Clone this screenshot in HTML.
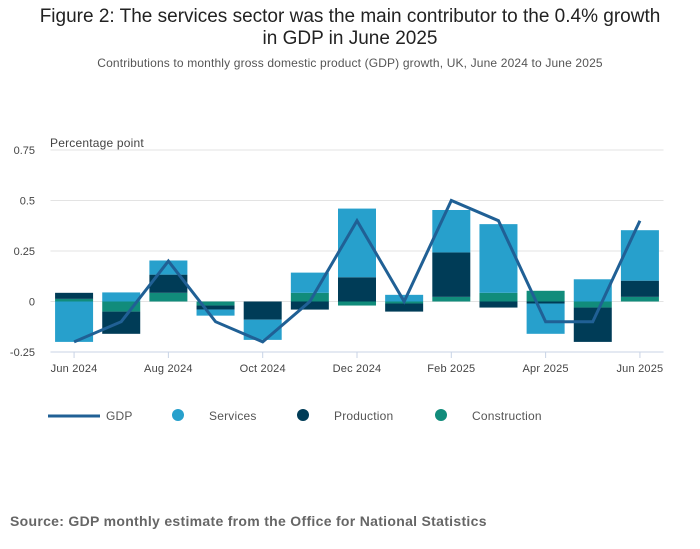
<!DOCTYPE html>
<html><head><meta charset="utf-8"><style>
body{margin:0;background:#fff;font-family:"Liberation Sans",sans-serif;}
#wrap{position:relative;width:700px;height:549px;overflow:hidden;}
.t{position:absolute;left:0;width:700px;text-align:center;color:#222;}
</style></head><body>
<div id="wrap">
<div class="t" style="top:6px;font-size:19px;line-height:22px;color:#222">Figure 2: The services sector was the main contributor to the 0.4% growth<br>in GDP in June 2025</div>
<div class="t" style="top:56px;font-size:12px;color:#555;letter-spacing:0.15px">Contributions to monthly gross domestic product (GDP) growth, UK, June 2024 to June 2025</div>
<svg id="svg" width="700" height="549" style="position:absolute;left:0;top:0"></svg>
<div style="position:absolute;left:10px;top:513px;font-size:14px;font-weight:bold;color:#666;letter-spacing:0.3px">Source: GDP monthly estimate from the Office for National Statistics</div>
</div>
<script>
const categories=["Jun 2024","Jul 2024","Aug 2024","Sep 2024","Oct 2024","Nov 2024","Dec 2024","Jan 2025","Feb 2025","Mar 2025","Apr 2025","May 2025","Jun 2025"];
const services=[-0.20,0.045,0.07,-0.03,-0.10,0.10,0.34,0.033,0.21,0.34,-0.15,0.11,0.25];
const production=[0.03,-0.11,0.09,-0.02,-0.09,-0.04,0.12,-0.04,0.22,-0.03,-0.01,-0.17,0.08];
const construction=[0.013,-0.05,0.043,-0.02,0,0.043,-0.02,-0.01,0.023,0.043,0.053,-0.03,0.023];
const gdp=[-0.2,-0.1,0.2,-0.1,-0.2,0,0.4,0,0.5,0.4,-0.1,-0.1,0.4];
const yTicks=[-0.25,0,0.25,0.5,0.75];
const yTickLabels=["-0.25","0","0.25","0.5","0.75"];
const NS="http://www.w3.org/2000/svg",svg=document.getElementById("svg");
const x0=50.5,x1=663.5,band=(x1-x0)/categories.length;
const xc=i=>x0+band*(i+0.5);
const y=v=>301.5-v*202;
function mk(t,a,p){const e=document.createElementNS(NS,t);for(const k in a)e.setAttribute(k,a[k]);(p||svg).appendChild(e);return e;}
yTicks.forEach((v,i)=>{
 const l=mk("line",{x1:x0,x2:x1,y1:y(v),y2:y(v),stroke:i===0?"#c8d3e6":"#e3e3e3","stroke-width":1});
 
 
 const t=mk("text",{x:35,y:y(v)+4,"text-anchor":"end","font-size":11,fill:"#444","font-family":"Liberation Sans, sans-serif"});
 t.textContent=yTickLabels[i];
 
 
});
const yt=mk("text",{x:50,y:147,"font-size":12,fill:"#444","font-family":"Liberation Sans, sans-serif","letter-spacing":"0.2"});yt.textContent="Percentage point";


categories.forEach((c,i)=>{
 if(i%2===0){
  const tk=mk("line",{x1:xc(i),x2:xc(i),y1:352,y2:358,stroke:"#c8d3e6"});
  
  
  const t=mk("text",{x:xc(i),y:372,"text-anchor":"middle","font-size":11,fill:"#444","font-family":"Liberation Sans, sans-serif","letter-spacing":"0.2"});
  t.textContent=c;
  
  
 }
 let pos=0,neg=0;
 [[construction,"#118c7b","construction"],[production,"#003c57","production"],[services,"#27a0cc","services"]].forEach(([arr,col,nm])=>{
  const v=arr[i];let a,b;
  if(v>=0){a=pos;b=pos+v;pos=b;}else{a=neg;b=neg+v;neg=b;}
  const r=mk("rect",{x:xc(i)-19,width:38,y:Math.min(y(a),y(b)),height:Math.abs(y(a)-y(b)),fill:col});
  
  
 });
});
const pl=mk("polyline",{points:gdp.map((v,i)=>xc(i)+","+y(v)).join(" "),fill:"none",stroke:"#206095","stroke-width":3});


const lg=mk("g",{});


const ll=mk("line",{x1:48,x2:100,y1:416,y2:416,stroke:"#206095","stroke-width":3},lg);


[["GDP",106,null],["Services",209,"#27a0cc"],["Production",334,"#003c57"],["Construction",472,"#118c7b"]].forEach(([n,x,c])=>{
 if(c){const ci=mk("circle",{cx:x-31,cy:415,r:6,fill:c},lg);
  
  }
 const t=mk("text",{x:x,y:420,"font-size":12,fill:"#555","font-family":"Liberation Sans, sans-serif","letter-spacing":"0.2"},lg);t.textContent=n;
 
 
});
</script>
</body></html>
